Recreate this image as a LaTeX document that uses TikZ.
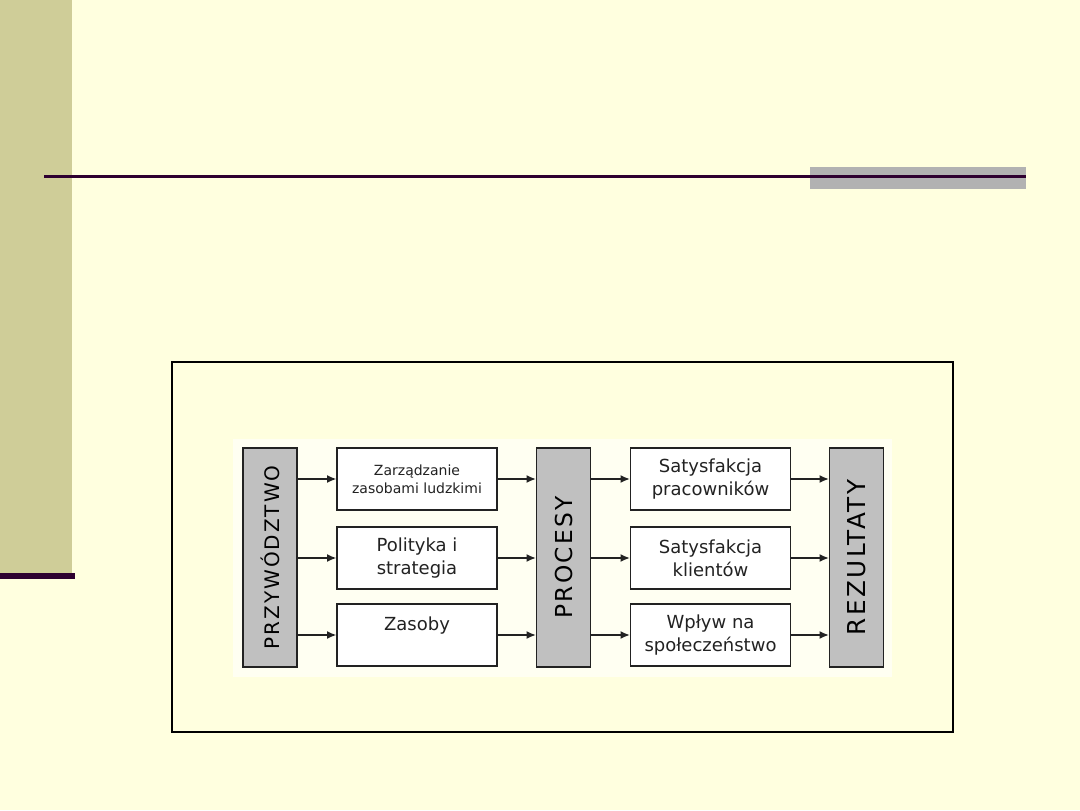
\documentclass[tikz,border=0pt]{standalone}
\usepackage{fontspec}
\setmainfont{DejaVu Sans}
\newfontfamily\spacedfont[LetterSpace=10]{DejaVu Sans}
\usepackage{xcolor}
\definecolor{SlideCream}{HTML}{FFFFDF}
\definecolor{SlideOlive}{HTML}{CFCD98}
\definecolor{SlidePlum}{HTML}{2E0030}
\definecolor{SlideGrey}{HTML}{B2B2B2}
\definecolor{PicWhite}{HTML}{FFFFF2}
\definecolor{BoxGrey}{HTML}{C0C0C0}
\definecolor{InkDark}{HTML}{222222}
\usepackage{tikz}
\usetikzlibrary{arrows.meta, positioning}
\tikzstyle{block} = [rectangle, draw=InkDark, fill=white, text=InkDark, minimum width=120pt, minimum height=46.5pt, inner sep=0pt, align=center, line width=0.8pt, font=\fontsize{13.5}{17}\selectfont]
\tikzstyle{pillar} = [rectangle, draw=InkDark, fill=BoxGrey, text=black, minimum width=40.5pt, minimum height=164.25pt, inner sep=0pt, line width=0.8pt]
\tikzstyle{arrow} = [-{Latex[length=7pt,width=6pt]}, color=InkDark, line width=1.3pt]

\begin{document}
\begin{tikzpicture}[x=0.75pt, y=-0.75pt]
        % --- slide background ---
        \fill[SlideCream] (0,0) rectangle (1080,810);
        \fill[SlideOlive] (0,0) rectangle (72,573);
        \fill[SlidePlum] (0,573) rectangle (75,579);
        \fill[SlideGrey] (810,167) rectangle (1026,189);
        \fill[SlidePlum] (44,175) rectangle (1026,178);

        % --- picture frame ---
        \draw[black, line width=0.8pt] (172,362) rectangle (953,732);
        \draw[black, line width=1.5pt] (172,732) -- (953,732);
        \fill[PicWhite] (233,439) rectangle (892,677);

        % --- pillars ---
        \node [pillar] (lead) at (270,557.5) {\rotatebox{90}{\spacedfont\fontsize{15}{15}\selectfont PRZYWÓDZTWO}};
        \node [pillar] (proc) at (563.5,557.5) {\rotatebox{90}{\spacedfont\fontsize{17.5}{17.5}\selectfont PROCESY}};
        \node [pillar] (results) at (856.5,557.5) {\rotatebox{90}{\spacedfont\fontsize{18.5}{18.5}\selectfont REZULTATY}};

        % --- enablers ---
        \node [block, font=\fontsize{10.5}{13.5}\selectfont] (hrm) at (417,479) {Zarządzanie\\zasobami ludzkimi};
        \node [block] (policy) at (417,558) {Polityka i\\strategia};
        \node [block] (resources) at (417,635) {Zasoby\\~};

        % --- outcomes ---
        \node [block] (staff) at (710.5,479) {Satysfakcja\\pracowników};
        \node [block] (clients) at (710.5,558) {Satysfakcja\\klientów};
        \node [block] (society) at (710.5,635) {Wpływ na\\społeczeństwo};

        % Connect columns
        \draw [arrow] (lead.east |- hrm) -- (hrm);
        \draw [arrow] (lead.east |- policy) -- (policy);
        \draw [arrow] (lead.east |- resources) -- (resources);

        \draw [arrow] (hrm) -- (proc.west |- hrm);
        \draw [arrow] (policy) -- (proc.west |- policy);
        \draw [arrow] (resources) -- (proc.west |- resources);

        \draw [arrow] (proc.east |- staff) -- (staff);
        \draw [arrow] (proc.east |- clients) -- (clients);
        \draw [arrow] (proc.east |- society) -- (society);

        \draw [arrow] (staff) -- (results.west |- staff);
        \draw [arrow] (clients) -- (results.west |- clients);
        \draw [arrow] (society) -- (results.west |- society);
\end{tikzpicture}
\end{document}
